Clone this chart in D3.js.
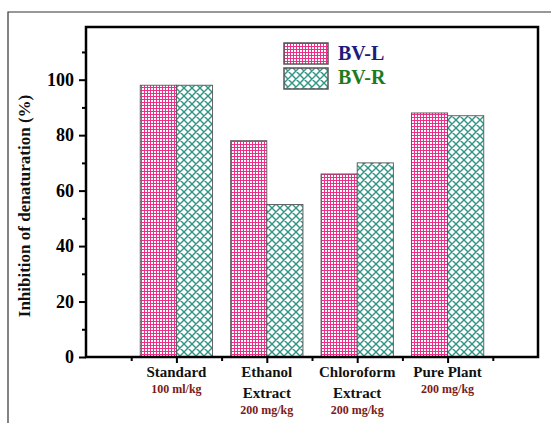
<!DOCTYPE html>
<html>
<head>
<meta charset="utf-8">
<script src="https://cdn.jsdelivr.net/npm/d3@7"></script>
<style>
  body { margin: 0; background: #fff; }
  text { font-family: "Liberation Serif", "Times New Roman", serif; font-weight: bold; }
</style>
</head>
<body>
<div id="chart"></div>
<script>
// data
var names = [["Standard"], ["Ethanol", "Extract"], ["Chloroform", "Extract"], ["Pure Plant"]];
var doses = ["100 ml/kg", "200 mg/kg", "200 mg/kg", "200 mg/kg"];
var bvL = [98, 78, 66, 88];
var bvR = [98, 55, 70, 87];
var yTicks = [0, 20, 40, 60, 80, 100];
var seriesNames = ["BV-L", "BV-R"];

var W = 551, H = 423;
var margin = {top: 27, right: 13, bottom: 66, left: 86};

var x = d3.scaleLinear().domain([0, 5]).range([margin.left, W - margin.right]);
var y = d3.scaleLinear().domain([0, 119]).range([H - margin.bottom, margin.top]);
var barW = 0.4;

var svg = d3.select("#chart").append("svg")
    .attr("width", W)
    .attr("height", H);

svg.append("rect").attr("width", W).attr("height", H).attr("fill", "#fff");

// patterns
var defs = svg.append("defs");
var grid = defs.append("pattern")
    .attr("id", "grid")
    .attr("patternUnits", "userSpaceOnUse")
    .attr("width", 3).attr("height", 3);
grid.append("rect").attr("width", 3).attr("height", 3).attr("fill", "#fff");
grid.append("path").attr("d", "M0,0.5H3M0.5,0V3")
    .attr("stroke", "#ec2f8a").attr("stroke-width", 1);

var hatch = defs.append("pattern")
    .attr("id", "hatch")
    .attr("patternUnits", "userSpaceOnUse")
    .attr("width", 8).attr("height", 8);
hatch.append("rect").attr("width", 8).attr("height", 8).attr("fill", "#fff");
hatch.append("path").attr("d", "M-1,-1L9,9M-1,9L9,-1M-1,7L1,9M7,-1L9,1M-1,1L1,-1M7,9L9,7")
    .attr("stroke", "#2f9584").attr("stroke-width", 1.4);

// outer border (cut by the picture edge)
svg.append("path")
    .attr("d", "M8," + H + "V12H" + W)
    .attr("fill", "none")
    .attr("stroke", "#333")
    .attr("stroke-width", 1.2);

// bars
var cats = d3.range(names.length);
svg.selectAll(".barL")
    .data(cats)
  .enter().append("rect")
    .attr("class", "barL")
    .attr("x", function(i) { return x(i + 1 - barW); })
    .attr("width", x(barW) - x(0))
    .attr("y", function(i) { return y(bvL[i]); })
    .attr("height", function(i) { return y(0) - y(bvL[i]); })
    .attr("fill", "url(#grid)")
    .attr("stroke", "#555")
    .attr("stroke-width", 0.9);

svg.selectAll(".barR")
    .data(cats)
  .enter().append("rect")
    .attr("class", "barR")
    .attr("x", function(i) { return x(i + 1); })
    .attr("width", x(barW) - x(0))
    .attr("y", function(i) { return y(bvR[i]); })
    .attr("height", function(i) { return y(0) - y(bvR[i]); })
    .attr("fill", "url(#hatch)")
    .attr("stroke", "#555")
    .attr("stroke-width", 0.9);

// y axis
var yAxis = svg.append("g")
    .attr("transform", "translate(" + margin.left + ",0)")
    .call(d3.axisLeft(y).tickValues(yTicks).tickSize(7).tickPadding(5));
yAxis.selectAll("text").style("font-size", "18px").attr("fill", "#000");
yAxis.selectAll("line").attr("stroke-width", 2);
yAxis.select(".domain").remove();

var yMinor = svg.append("g")
    .attr("transform", "translate(" + margin.left + ",0)")
    .call(d3.axisLeft(y).tickValues(d3.range(10, 119, 20)).tickSize(4).tickFormat(""));
yMinor.selectAll("line").attr("stroke-width", 2);
yMinor.select(".domain").remove();

// x axis ticks
var xAxis = svg.append("g")
    .attr("transform", "translate(0," + y(0) + ")")
    .call(d3.axisBottom(x).tickValues([1, 2, 3, 4]).tickSize(6).tickFormat(""));
xAxis.selectAll("line").attr("stroke-width", 2);
xAxis.select(".domain").remove();

var xMinor = svg.append("g")
    .attr("transform", "translate(0," + y(0) + ")")
    .call(d3.axisBottom(x).tickValues([0.5, 1.5, 2.5, 3.5, 4.5]).tickSize(4).tickFormat(""));
xMinor.selectAll("line").attr("stroke-width", 2);
xMinor.select(".domain").remove();

// frame
svg.append("rect")
    .attr("x", x(0))
    .attr("y", y(119))
    .attr("width", x(5) - x(0))
    .attr("height", y(0) - y(119))
    .attr("fill", "none")
    .attr("stroke", "#000")
    .attr("stroke-width", 2.5);

// category labels
cats.forEach(function(i) {
  var cx = x(i + 1);
  var lines = names[i];
  lines.forEach(function(t, k) {
    svg.append("text")
      .attr("x", cx)
      .attr("y", 377 + k * 21)
      .attr("text-anchor", "middle")
      .style("font-size", "15px")
      .attr("fill", "#111")
      .text(t);
  });
  svg.append("text")
    .attr("x", cx)
    .attr("y", 377 + (lines.length - 1) * 21 + 16)
    .attr("text-anchor", "middle")
    .style("font-size", "12px")
    .attr("fill", "#7a1a1a")
    .text(doses[i]);
});

// y axis title
svg.append("text")
    .attr("transform", "translate(30," + ((y(0) + y(119)) / 2 + 14) + ") rotate(-90)")
    .attr("text-anchor", "middle")
    .style("font-size", "17px")
    .attr("fill", "#111")
    .text("Inhibition of denaturation (%)");

// legend
var legend = svg.append("g").attr("transform", "translate(284,43)");
var fills = ["url(#grid)", "url(#hatch)"];
var colors = ["#1c1c7c", "#1f7a1f"];
seriesNames.forEach(function(s, i) {
  legend.append("rect")
    .attr("x", 0)
    .attr("y", i * 25)
    .attr("width", 44)
    .attr("height", 21)
    .attr("fill", fills[i])
    .attr("stroke", "#555")
    .attr("stroke-width", 1.5);
  legend.append("text")
    .attr("x", 54)
    .attr("y", i * 24 + 17)
    .style("font-size", "20px")
    .attr("fill", colors[i])
    .text(s);
});
</script>
</body>
</html>
